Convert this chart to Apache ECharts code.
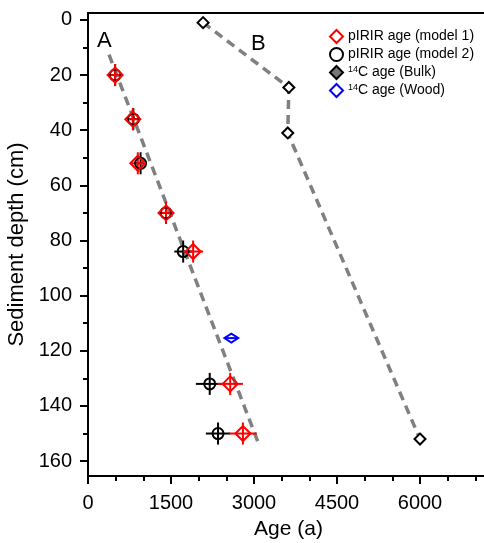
<!DOCTYPE html>
<html><head><meta charset="utf-8">
<script src="https://cdn.jsdelivr.net/npm/echarts@6/dist/echarts.min.js"></script>
<style>html,body{margin:0;padding:0;background:#fff}#c{width:484px;height:543px}</style>
</head><body><div id="c"></div>
<script>
// depths (cm)
var depthsLum = [20, 36, 52, 70, 84, 132, 150];
// pIRIR model 1 ages and errors
var ageModel1 = [490, 810, 900, 1410, 1900, 2570, 2800];
var errAgeModel1 = [90, 100, 110, 120, 180, 230, 250];
// pIRIR model 2 ages and errors
var ageModel2 = [490, 820, 950, 1410, 1720, 2200, 2350];
var errAgeModel2 = [90, 100, 110, 120, 160, 250, 220];
var errDepthLum = [4, 4, 4, 4, 4, 4, 4];
// 14C bulk
var depthsBulk = [1, 24.5, 41, 152];
var ageBulk = [2080, 3630, 3610, 6000];
var errAgeBulk = [90, 90, 90, 90];
// 14C wood
var depthsWood = [115.4];
var ageWood = [2590];
var errAgeWood = [110];
// age-depth trend line A
var lineAAge = [380, 3090];
var lineADepth = [12.6, 154];
// tick labels
var xTicks = [0, 1500, 3000, 4500, 6000];
var yTicks = [0, 20, 40, 60, 80, 100, 120, 140, 160];
var yMinorTicks = [10, 30, 50, 70, 90, 110, 130, 150];

var FONT = 'Liberation Sans, Arial, sans-serif';
function pairs(xs, ys) { return xs.map(function (x, i) { return [x, ys[i]]; }); }
function errData(xs, ys, ex, ey) { return xs.map(function (x, i) { return [x, ys[i], ex[i], ey ? ey[i] : 0]; }); }
function errSeries(data, color) {
  return {
    type: 'custom', data: data, encode: { x: 0, y: 1 }, z: 3, silent: true,
    renderItem: function (params, api) {
      var x = api.value(0), y = api.value(1), ex = api.value(2), ey = api.value(3);
      var ch = [];
      var a = api.coord([x - ex, y]), b = api.coord([x + ex, y]);
      ch.push({ type: 'line', shape: { x1: a[0], y1: a[1], x2: b[0], y2: b[1] }, style: { stroke: color, lineWidth: 2 } });
      if (ey > 0) {
        var c = api.coord([x, y - ey]), d = api.coord([x, y + ey]);
        ch.push({ type: 'line', shape: { x1: c[0], y1: c[1], x2: d[0], y2: d[1] }, style: { stroke: color, lineWidth: 2 } });
      }
      return { type: 'group', children: ch };
    }
  };
}

var chart = echarts.init(document.getElementById('c'));
var names = ['pIRIR age (model 1)', 'pIRIR age (model 2)', '14C age (Bulk)', '14C age (Wood)'];
chart.setOption({
  animation: false,
  textStyle: { fontFamily: FONT },
  grid: { left: 88, top: 13, bottom: 67, right: -19, outerBoundsMode: 'none', containLabel: false },
  legend: {
    orient: 'vertical', left: 324, top: 24, itemGap: 3, itemWidth: 13, itemHeight: 13,
    selectedMode: false,
    textStyle: { fontFamily: FONT, fontSize: 14, color: '#000', rich: {
      sup: { fontSize: 9, fontFamily: FONT, color: '#000', verticalAlign: 'top', lineHeight: 14 },
      t: { fontSize: 14, fontFamily: FONT, color: '#000', lineHeight: 14 }
    } },
    formatter: function (n) {
      if (n.indexOf('14') === 0) return '{sup|14}{t|' + n.slice(2) + '}';
      return '{t|' + n + '}';
    },
    data: [
      { name: names[0], icon: 'diamond', itemStyle: { color: 'transparent', borderColor: '#ff0000', borderWidth: 2 } },
      { name: names[1], icon: 'circle', itemStyle: { color: 'transparent', borderColor: '#000', borderWidth: 2 } },
      { name: names[2], icon: 'diamond', itemStyle: { color: '#777', borderColor: '#000', borderWidth: 2 } },
      { name: names[3], icon: 'diamond', itemStyle: { color: 'transparent', borderColor: '#0000ff', borderWidth: 2 } }
    ]
  },
  graphic: [
    { type: 'text', left: 97, top: 30, style: { text: 'A', font: '22px ' + FONT, fill: '#000' } },
    { type: 'text', left: 251, top: 33, style: { text: 'B', font: '22px ' + FONT, fill: '#000' } }
  ],
  xAxis: [{
    type: 'value', min: 0, max: 7500, interval: 1500, position: 'bottom',
    name: 'Age (a)', nameLocation: 'middle', nameGap: 43,
    nameTextStyle: { fontSize: 21, color: '#000', fontFamily: FONT, padding: [0, 14, 0, 0] },
    axisLine: { show: true, onZero: false, lineStyle: { color: '#000', width: 2 } },
    axisTick: { show: true, length: 8, lineStyle: { color: '#000', width: 2 } },
    minorTick: { show: true, splitNumber: 3, length: 5, lineStyle: { color: '#000', width: 2 } },
    axisLabel: { fontSize: 20, color: '#000', margin: 17, fontFamily: FONT, showMaxLabel: false,
      formatter: function (v) { return xTicks.indexOf(v) >= 0 ? String(v) : ''; } },
    splitLine: { show: false }
  }, {
    type: 'value', min: 0, max: 7500, position: 'top',
    axisLine: { show: true, onZero: false, lineStyle: { color: '#000', width: 2 } },
    axisTick: { show: false }, axisLabel: { show: false }, splitLine: { show: false }
  }],
  yAxis: [{
    type: 'value', min: -2.5, max: 165.4, inverse: true, position: 'left',
    name: 'Sediment depth (cm)', nameLocation: 'middle', nameGap: 48,
    nameTextStyle: { fontSize: 22, color: '#000', fontFamily: FONT },
    axisLine: { show: true, onZero: false, lineStyle: { color: '#000', width: 2 } },
    axisTick: { show: true, length: 8, customValues: yTicks, lineStyle: { color: '#000', width: 2 } },
    axisLabel: { fontSize: 20, color: '#000', margin: 16, fontFamily: FONT, customValues: yTicks },
    splitLine: { show: false }
  }, {
    type: 'value', min: -2.5, max: 165.4, inverse: true, position: 'left',
    axisLine: { show: false, onZero: false },
    axisTick: { show: true, length: 5, customValues: yMinorTicks, lineStyle: { color: '#000', width: 2 } },
    axisLabel: { show: false }, splitLine: { show: false }
  }],
  series: [
    { type: 'line', data: pairs(lineAAge, lineADepth), symbol: 'none', z: 1, silent: true,
      lineStyle: { color: '#808080', width: 3.5, type: [9, 6] } },
    { type: 'line', data: pairs(ageBulk, depthsBulk), symbol: 'none', z: 1, silent: true,
      lineStyle: { color: '#808080', width: 3.5, type: [9, 6] } },
    errSeries(errData(ageModel2, depthsLum, errAgeModel2, errDepthLum), '#000'),
    { name: names[1], type: 'scatter', data: pairs(ageModel2, depthsLum), symbol: 'circle', symbolSize: 11, z: 4,
      itemStyle: { color: 'transparent', borderColor: '#000', borderWidth: 2, opacity: 1 } },
    errSeries(errData(ageModel1, depthsLum, errAgeModel1, errDepthLum), '#ff0000'),
    { name: names[0], type: 'scatter', data: pairs(ageModel1, depthsLum), symbol: 'diamond', symbolSize: 15, z: 5,
      itemStyle: { color: 'transparent', borderColor: '#ff0000', borderWidth: 2, opacity: 1 } },
    errSeries(errData(ageBulk, depthsBulk, errAgeBulk), '#000'),
    { name: names[2], type: 'scatter', data: pairs(ageBulk, depthsBulk), symbol: 'diamond', symbolSize: 11, z: 5,
      itemStyle: { color: '#fff', borderColor: '#000', borderWidth: 2, opacity: 1 } },
    errSeries(errData(ageWood, depthsWood, errAgeWood), '#0000ff'),
    { name: names[3], type: 'scatter', data: pairs(ageWood, depthsWood), symbol: 'diamond', symbolSize: [14, 9], z: 5,
      itemStyle: { color: 'transparent', borderColor: '#0000ff', borderWidth: 2, opacity: 1 } }
  ]
});
</script></body></html>
